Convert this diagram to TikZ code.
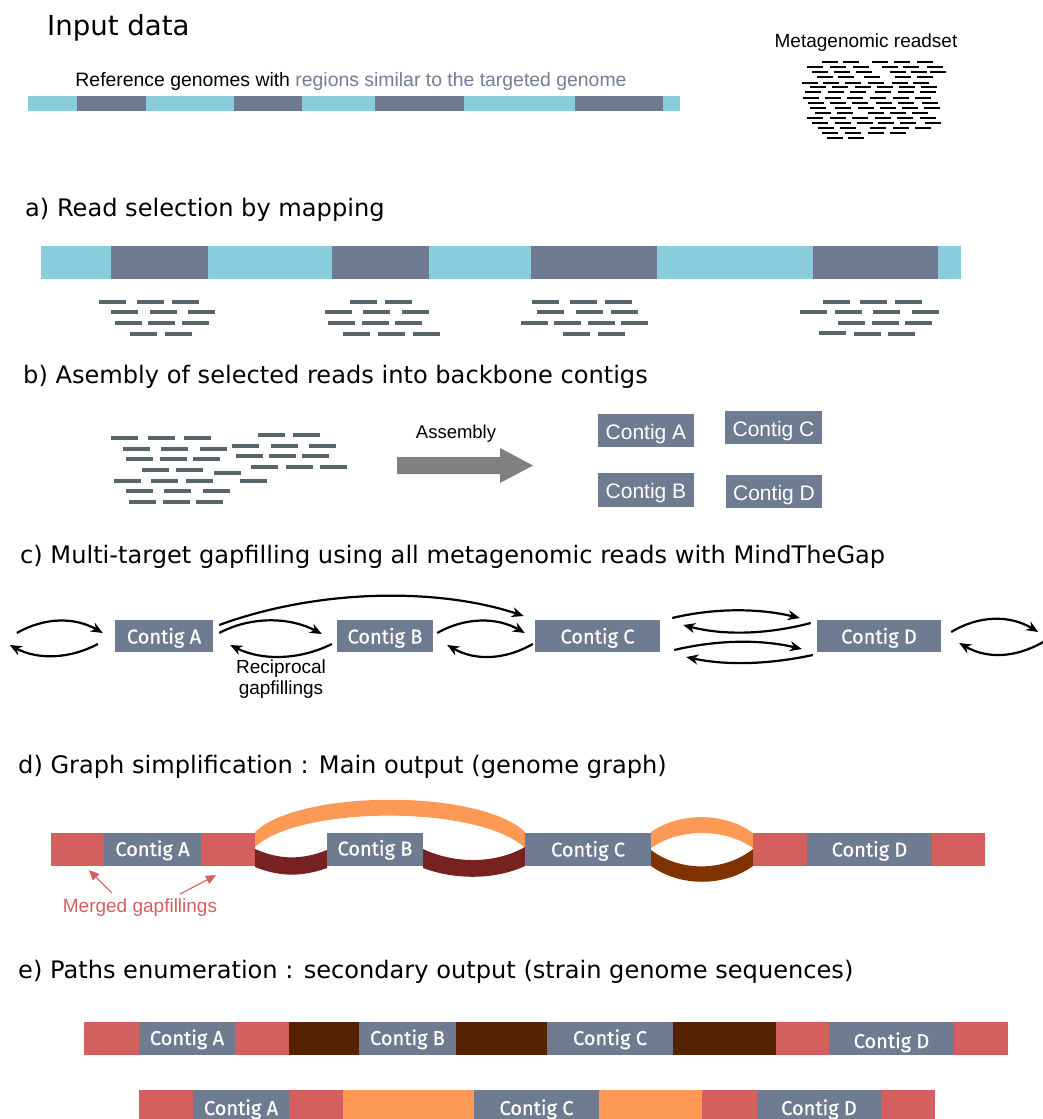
\documentclass[tikz,border=0pt]{standalone}
\usepackage{fontspec}
\setmainfont{DejaVu Sans}
\newfontfamily\arialf{Liberation Sans}
\newfontfamily\contigf[FakeBold=0.6]{Fira Sans}
\usetikzlibrary{arrows.meta,calc}
\definecolor{lblue}{HTML}{89CDDC}
\definecolor{slate}{HTML}{6F7B91}
\definecolor{slatetext}{HTML}{737D94}
\definecolor{readc}{HTML}{56666B}
\definecolor{gfred}{HTML}{D45F5F}
\definecolor{gforange}{HTML}{FF9955}
\definecolor{gfdark}{HTML}{782121}
\definecolor{gfbrown}{HTML}{803300}
\definecolor{gfdeep}{HTML}{552200}
\definecolor{arrgray}{HTML}{808080}
\begin{document}
\begin{tikzpicture}[x=1pt,y=-1pt,
  heading/.style={anchor=base west,inner sep=0pt,font=\fontsize{24.1}{29}\selectfont},
  lbl/.style={anchor=base,inner sep=0pt,font=\arialf\fontsize{19}{22}\selectfont},
  cbox/.style={fill=slate,text=white,inner sep=0pt,minimum height=33pt,
    font=\contigf\fontsize{20}{21}\selectfont,text height=13pt,text depth=0pt},
  bbox/.style={fill=slate,text=white,inner sep=0pt,
    font=\arialf\fontsize{21}{24}\selectfont,text height=17pt,text depth=0pt},
  garrow/.style={line width=2.2pt,-{Stealth[length=12pt,width=10pt]}},
  rarrow/.style={gfred,line width=1.1pt,-{Triangle[length=10pt,width=9pt]}},
  readline/.style={readc,line width=3.2pt},
  mread/.style={black,line width=1.8pt}]
\useasboundingbox (0,0) rectangle (1043,1119);
\clip (0,0) rectangle (1043,1119);
\fill[white] (0,0) rectangle (1043,1119);

% ---------------- Input data ----------------
\node[heading,font=\fontsize{27.6}{32}\selectfont] (hin) at (47,35) {Input data};
\node[lbl,font=\arialf\fontsize{19.4}{22}\selectfont] (reftxt) at (351,86) {Reference genomes with \textcolor{slatetext}{regions similar to the targeted genome}};
\fill[lblue] (28,96) rectangle (680,111);
\foreach \a/\b in {77/146,234/302,375/464,575/663} \fill[slate] (\a,96) rectangle (\b,111);
\node[lbl] (metatxt) at (866,47) {Metagenomic readset};
\foreach \yy/\xl in {62/{822,843,872,894,917},67/{807,830,853,882,903,927},
  72/{812,834,856,890,911,930},77/{817,838,864,895,917},83/{802,823,845,868,892,913},
  87/{810,832,855,877,899,921},92/{805,828,850,875,898,920},98/{803,825,847,870,893,915},
  103/{808,830,852,876,898,922},108/{810,835,858,880,902,924},113/{815,837,868,890,912},
  118/{807,830,852,875,897,920},123/{812,835,857,878,900,925},128/{818,840,870,893,915},
  133/{822,845,868,890},138/{827,848}}
  {\foreach \xx in \xl {\draw[mread] (\xx,\yy) -- ++(16,0);}}

% ---------------- a) ----------------
\node[heading] (ha) at (25,216) {a) Read selection by mapping};
\fill[lblue] (41,246) rectangle (961,279);
\foreach \a/\b in {111/208,332/429,531/657,813/938} \fill[slate] (\a,246) rectangle (\b,279);
\foreach \xx/\yy in {99/302,137/302,172/302,111/312,150/312,188/312,115/323,148/323,182/323,130/334,165/334,
  350/302,385/302,325/312,363/312,402/312,328/323,362/323,395/323,343/334,378/334,413/334,
  532/302,570/302,605/302,537/312,576/312,611/312,521/323,554/323,588/323,621/323,563/334,598/334,
  823/302,860/302,895/302,800/312,835/312,873/312,912/312,838/323,872/323,905/323,819/333,854/334,888/334}
  {\draw[readline] (\xx,\yy) -- ++(27,0);}

% ---------------- b) ----------------
\node[heading] (hb) at (23,383) {b) Asembly of selected reads into backbone contigs};
\foreach \xx/\yy in {111/438,148/438,184/438,123/449,161/449,200/449,126/459,160/459,193/459,
  142/470,176/470,214/473,114/481,151/481,186/481,240/481,126/491,164/491,203/491,
  129/502,163/502,196/502,258/435,293/435,232/446,271/446,309/446,236/456,269/456,302/456,
  251/467,286/467,320/467}
  {\draw[readline] (\xx,\yy) -- ++(27,0);}
\node[lbl,font=\arialf\fontsize{18.5}{22}\selectfont] (asm) at (456,438) {Assembly};
\fill[arrgray] (397,457) -- (500,457) -- (500,448) -- (533,465.5) -- (500,483) -- (500,474) -- (397,474) -- cycle;
\node[bbox,minimum width=96pt,minimum height=33pt] (bA) at (646,430.5) {Contig A};
\node[bbox,minimum width=97pt,minimum height=33pt] (bC) at (773.5,427.5) {Contig C};
\node[bbox,minimum width=96pt,minimum height=34pt] (bB) at (646,490) {Contig B};
\node[bbox,minimum width=96pt,minimum height=33pt] (bD) at (774,491.5) {Contig D};

% ---------------- c) ----------------
\node[heading] (hc) at (20,563) {c) Multi-target gapfilling using all metagenomic reads with MindTheGap};
\node[cbox,minimum width=98pt,minimum height=32pt,text height=15pt] (A) at (164,636) {Contig A};
\node[cbox,minimum width=96pt,minimum height=32pt,text height=15pt] (B) at (385,636) {Contig B};
\node[cbox,minimum width=125pt,minimum height=32pt,text height=15pt] (C) at (597.5,636) {Contig C};
\node[cbox,minimum width=124pt,minimum height=32pt,text height=15pt] (D) at (879,636) {Contig D};
% left of A
\draw[garrow] ($(A.west)+(-98,-3)$) .. controls +(28,-16) and +(-28,-16) .. ($(A.west)+(-12,-3)$);
\draw[garrow] ($(A.west)+(-17,8)$) .. controls +(-28,15) and +(28,15) .. ($(A.west)+(-105,9)$);
% A - B
\draw[garrow] ($(A.east)+(6,-3)$) .. controls +(32,-17) and +(-32,-17) .. ($(B.west)+(-15,-2)$);
\draw[garrow] ($(B.west)+(-5,8)$) .. controls +(-32,16) and +(32,16) .. ($(A.east)+(17,9)$);
% A - C long
\draw[garrow] ($(A.east)+(6,-11)$) .. controls +(101,-37) and +(-84,-28) .. ($(C.west)+(-11,-20)$);
% B - C
\draw[garrow] ($(B.east)+(4,-3)$) .. controls +(28,-16) and +(-28,-16) .. ($(C.west)+(-10,-3)$);
\draw[garrow] ($(C.west)+(-2,8)$) .. controls +(-28,16) and +(28,16) .. ($(B.east)+(14,9)$);
% C - D
\draw[garrow] ($(C.east)+(12,-18)$) .. controls +(42,-10) and +(-42,-10) .. ($(D.west)+(-17,-18)$);
\draw[garrow] ($(D.west)+(-6,-13)$) .. controls +(-42,11) and +(42,11) .. ($(C.east)+(23,-11)$);
\draw[garrow] ($(C.east)+(14,14)$) .. controls +(42,-10) and +(-42,-10) .. ($(D.west)+(-15,13)$);
\draw[garrow] ($(D.west)+(-4,19)$) .. controls +(-42,9) and +(42,9) .. ($(C.east)+(26,21)$);
% right of D
\draw[garrow] ($(D.east)+(10,-4)$) .. controls +(28,-17) and +(-28,-17) .. ($(D.east)+(97,-4)$);
\draw[garrow] ($(D.east)+(102,6)$) .. controls +(-28,16) and +(28,16) .. ($(D.east)+(18,7)$);
\node[lbl] (recip) at (281,673) {Reciprocal};
\node[lbl] (recip2) at (281,694) {gapfillings};

% ---------------- d) ----------------
\node[heading] (hd) at (18,773) {d) Graph simplification : Main output (genome graph)};
% bands
\fill[gforange] (255,832) .. controls (300,789) and (480,789) .. (525,832) -- (525,848)
  .. controls (480,805) and (300,805) .. (255,847) -- cycle;
\fill[gfdark] (255,849) .. controls (280,860) and (302,860) .. (327,850) -- (327,868)
  .. controls (302,877) and (280,877) .. (255,867) -- cycle;
\fill[gfdark] (423,849) .. controls (455,864) and (495,864) .. (525,847) -- (525,866)
  .. controls (495,880) and (455,880) .. (423,868) -- cycle;
\fill[gforange] (651,832) .. controls (680,812) and (724,812) .. (753,833) -- (753,848)
  .. controls (724,828) and (680,828) .. (651,848) -- cycle;
\fill[gfbrown] (651,850) .. controls (680,872) and (724,872) .. (753,849) -- (753,866)
  .. controls (724,887) and (680,887) .. (651,866) -- cycle;
% bar
\fill[gfred] (51,833) rectangle (104,866);
\fill[gfred] (201,833) rectangle (255,866);
\fill[gfred] (753,833) rectangle (807,866);
\fill[gfred] (932,833) rectangle (985,866);
\node[cbox,minimum width=97pt] (dA) at (152.5,849.5) {Contig A};
\node[cbox,minimum width=96pt,text height=12pt] (dB) at (375,849.5) {Contig B};
\node[cbox,minimum width=126pt,text height=14pt] (dC) at (588,849.5) {Contig C};
\node[cbox,minimum width=125pt,text height=14pt] (dD) at (869.5,849.5) {Contig D};
\node (dr1) [inner sep=0pt,minimum width=53pt,minimum height=33pt] at (77.5,849.5) {};
\node (dr2) [inner sep=0pt,minimum width=54pt,minimum height=33pt] at (228,849.5) {};
\node[lbl,text=gfred] (merged) at (140,912) {Merged gapfillings};
\draw[rarrow] ($(merged.north)+(-28,-5)$) -- ($(dr1.south)+(11.5,4)$);
\draw[rarrow] ($(merged.north)+(40,-4)$) -- ($(dr2.south)+(-12,9)$);

% ---------------- e) ----------------
\node[heading] (he) at (18,978) {e) Paths enumeration : secondary output (strain genome sequences)};
% row 1
\fill[gfred] (84,1022) rectangle (139,1055);
\fill[gfred] (235,1022) rectangle (289,1055);
\fill[gfdeep] (289,1022) rectangle (359,1055);
\fill[gfdeep] (456,1022) rectangle (547,1055);
\fill[gfdeep] (673,1022) rectangle (776,1055);
\fill[gfred] (776,1022) rectangle (829,1055);
\fill[gfred] (954,1022) rectangle (1008,1055);
\node[cbox,minimum width=96pt] (e1A) at (187,1038.5) {Contig A};
\node[cbox,minimum width=97pt] (e1B) at (407.5,1038.5) {Contig B};
\node[cbox,minimum width=126pt] (e1C) at (610,1038.5) {Contig C};
\node[cbox,minimum width=125pt,text height=19pt] (e1D) at (891.5,1038.5) {Contig D};
% row 2
\fill[gfred] (139,1090) rectangle (193,1124);
\fill[gfred] (289,1090) rectangle (343,1124);
\fill[gforange] (343,1090) rectangle (474,1124);
\fill[gforange] (599,1090) rectangle (702,1124);
\fill[gfred] (702,1090) rectangle (757,1124);
\fill[gfred] (881,1090) rectangle (935,1124);
\node[cbox,minimum width=96pt,minimum height=34pt,text height=16pt] (e2A) at (241,1107) {Contig A};
\node[cbox,minimum width=125pt,minimum height=34pt,text height=16pt] (e2C) at (536.5,1107) {Contig C};
\node[cbox,minimum width=124pt,minimum height=34pt,text height=16pt] (e2D) at (819,1107) {Contig D};
\end{tikzpicture}
\end{document}
